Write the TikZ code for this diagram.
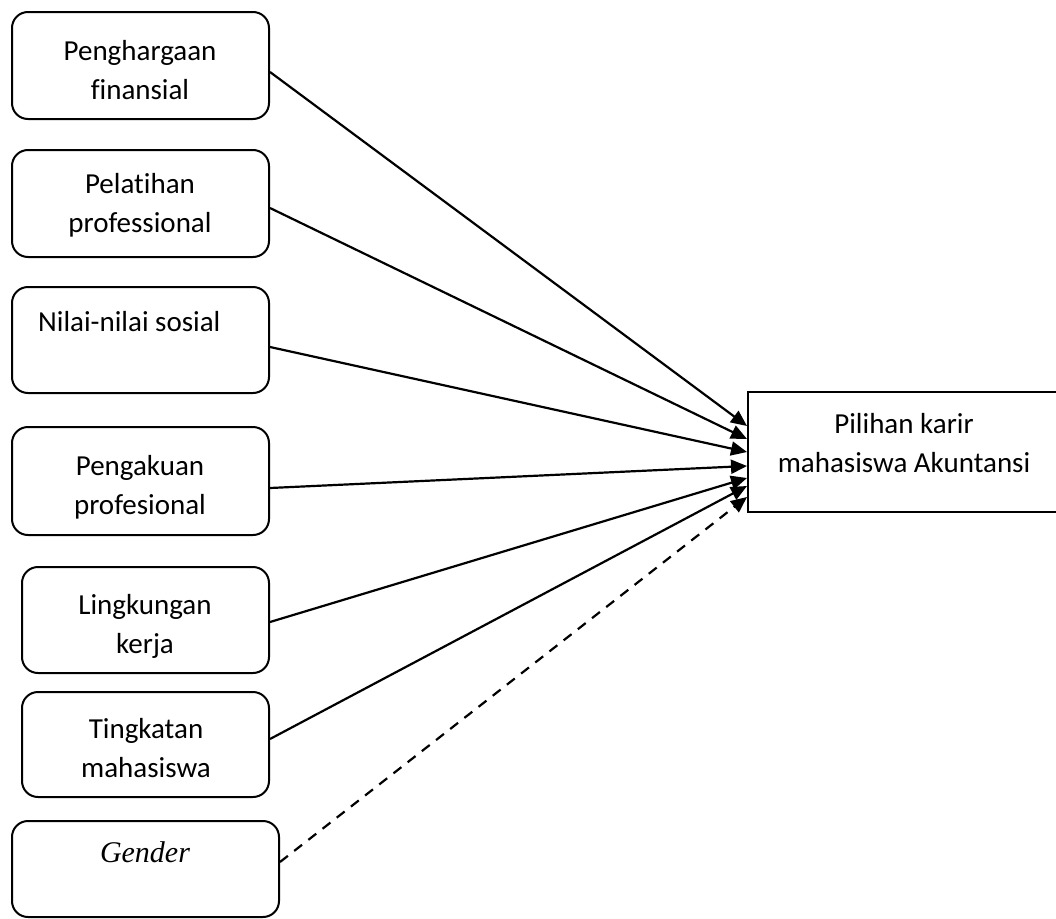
\documentclass[tikz,border=0pt]{standalone}
\usepackage{fontspec}
\setmainfont{Carlito}[Ligatures=NoCommon]
\newfontfamily\gfont{Liberation Serif}
\usetikzlibrary{arrows.meta}
\begin{document}
\begin{tikzpicture}[x=1pt,y=-1pt,
  box/.style={draw, line width=2pt, rounded corners=16pt, inner sep=0pt},
  tbox/.style={draw, line width=2pt, inner sep=0pt},
  lbl/.style={font=\fontsize{29}{39}\selectfont, align=center, inner sep=0pt},
  arr/.style={line width=2.2pt, -{Triangle[length=16pt,width=14pt]}},
  darr/.style={arr, dash pattern=on 10pt off 8pt}]
\useasboundingbox (0,0) rectangle (1056,918);
% boxes
\node[box, minimum width=257pt, minimum height=107pt] (f) at (140.5,65.5) {};
\node[box, minimum width=257pt, minimum height=107pt] (p) at (140.5,203.5) {};
\node[box, minimum width=257pt, minimum height=106pt] (n) at (140.5,340) {};
\node[box, minimum width=257pt, minimum height=108pt] (k) at (140.5,481) {};
\node[box, minimum width=247pt, minimum height=106pt] (l) at (145.5,620) {};
\node[box, minimum width=247pt, minimum height=105pt] (s) at (145.5,744.5) {};
\node[box, minimum width=267pt, minimum height=96pt] (g) at (145.5,869) {};
\node[tbox, minimum width=312pt, minimum height=120pt] (t) at (904,452) {};
% labels
\node[lbl] (fl) at (140,70) {Penghargaan\\finansial};
\node[lbl] (pl) at (140,205) {Pelatihan\\professional};
\node[lbl, anchor=west] (nl) at (38,322) {Nilai-nilai sosial};
\node[lbl] (kl) at (140,487) {Pengakuan\\profesional};
\node[lbl] (ll) at (145,626) {Lingkungan\\kerja};
\node[lbl] (sl) at (146,748) {Tingkatan\\mahasiswa};
\node[lbl, font=\fontsize{30}{39}\selectfont\gfont\itshape] (gl) at (145,852) {Gender};
\node[lbl] (tl) at (904,443) {Pilihan karir\\mahasiswa Akuntansi};
% connectors
\draw[arr] (f.east |- 0,72) -- (t.west |- 0,426);
\draw[arr] (p.east |- 0,208) -- (t.west |- 0,439);
\draw[arr] (n.east |- 0,347) -- (t.west |- 0,452);
\draw[arr] (k.east |- 0,488) -- (t.west |- 0,466);
\draw[arr] (l.east |- 0,622) -- (t.west |- 0,478);
\draw[arr] (s.east |- 0,739) -- (t.west |- 0,486);
\draw[darr] (g.east |- 0,862) -- (t.west |- 0,497);
\end{tikzpicture}
\end{document}
